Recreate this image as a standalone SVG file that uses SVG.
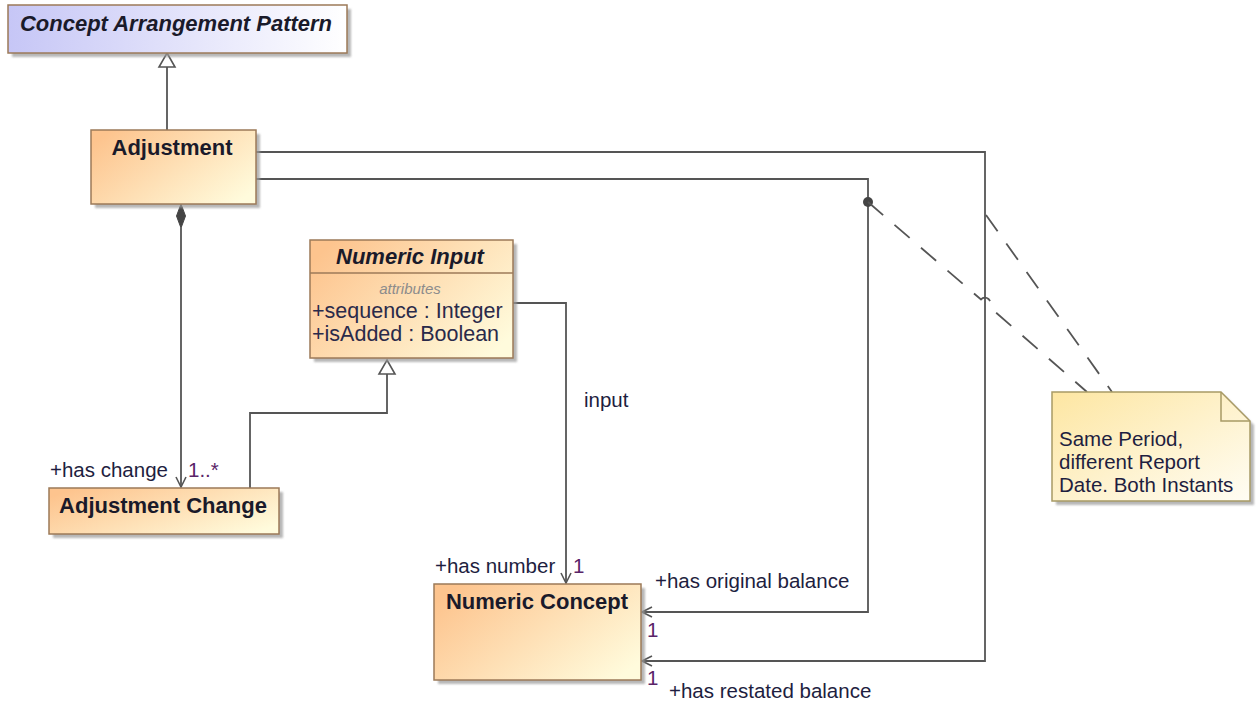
<svg xmlns="http://www.w3.org/2000/svg" width="1259" height="708" viewBox="0 0 1259 708">
  <defs>
    <linearGradient id="gClass" x1="0" y1="0.2" x2="1" y2="0.8">
      <stop offset="0" stop-color="#fdc48e"/>
      <stop offset="1" stop-color="#fffbdc"/>
    </linearGradient>
    <linearGradient id="gAbstract" x1="0" y1="0" x2="1" y2="0">
      <stop offset="0" stop-color="#c6c6f6"/>
      <stop offset="1" stop-color="#ffffff"/>
    </linearGradient>
    <linearGradient id="gNote" x1="0" y1="0" x2="1" y2="1">
      <stop offset="0" stop-color="#fde6a2"/>
      <stop offset="1" stop-color="#fffdf4"/>
    </linearGradient>
    <filter id="soft" x="-5%" y="-5%" width="110%" height="110%">
      <feGaussianBlur stdDeviation="1.2"/>
    </filter>
    <marker id="openArrow" viewBox="0 0 12 12" refX="11" refY="6" markerWidth="12" markerHeight="12" markerUnits="userSpaceOnUse" orient="auto">
      <path d="M1,1 L11,6 L1,11" fill="none" stroke="#555" stroke-width="1.6"/>
    </marker>
  </defs>
  <style>
    .box { stroke: #9c7a58; stroke-width: 1.5; }
    .shadow { fill: #9a9a9a; opacity: 0.7; filter: url(#soft); }
    .title { font-family: "Liberation Sans", Arial, sans-serif; font-size: 22px; font-weight: bold; fill: #1a1a2a; }
    .lbl { font-family: "Liberation Sans", Arial, sans-serif; font-size: 20.5px; fill: #1e1e40; }
    .mult { font-family: "Liberation Sans", Arial, sans-serif; font-size: 20.5px; fill: #5a2468; }
    .attr { font-family: "Liberation Sans", Arial, sans-serif; font-size: 21.5px; fill: #2a2a4a; }
    .stereo { font-family: "Liberation Sans", Arial, sans-serif; font-size: 15px; font-style: italic; fill: #8c8c8c; }
    .line { fill: none; stroke: #555; stroke-width: 1.8; }
    .dash { fill: none; stroke: #555; stroke-width: 1.8; stroke-dasharray: 20 15; }
  </style>

  <rect width="1259" height="708" fill="#ffffff"/>

  <!-- connectors -->
  <g id="connectors">
    <!-- Adjustment generalizes Concept Arrangement Pattern -->
    <path class="line" d="M167,130 L167,67"/>
    <path d="M167,53 L175,67 L159,67 Z" fill="#ffffff" stroke="#555" stroke-width="1.6"/>

    <!-- composition Adjustment to Adjustment Change -->
    <path class="line" d="M181,228 L181,487" marker-end="url(#openArrow)"/>
    <path d="M181,204 L185.5,216 L181,228 L176.5,216 Z" fill="#444" stroke="#444" stroke-width="1"/>

    <!-- Adjustment Change generalizes Numeric Input -->
    <path class="line" d="M250,488 L250,413 L387,413 L387,374"/>
    <path d="M387,360 L395,374 L379,374 Z" fill="#ffffff" stroke="#555" stroke-width="1.6"/>

    <!-- input association -->
    <path class="line" d="M513,303 L566,303 L566,583" marker-end="url(#openArrow)"/>

    <!-- has original balance -->
    <path class="line" d="M256,179 L868,179 L868,612 L642,612" marker-end="url(#openArrow)"/>
    <!-- has restated balance -->
    <path class="line" d="M256,152 L985,152 L985,661 L642,661" marker-end="url(#openArrow)"/>

    <!-- note anchors -->
    <circle cx="868" cy="202" r="5" fill="#444"/>
    <path class="dash" d="M868,202 L981,299.5 A5,5 0 0 1 989,306.5 L1087,392"/>
    <path class="dash" d="M986,215 L1112,392"/>
  </g>

  <!-- Concept Arrangement Pattern -->
  <g id="concept-arrangement-pattern">
    <rect class="shadow" x="12" y="9" width="339" height="48"/>
    <rect class="box" x="8" y="5" width="339" height="48" fill="url(#gAbstract)"/>
    <text class="title" x="176" y="31" text-anchor="middle" font-style="italic">Concept Arrangement Pattern</text>
  </g>

  <!-- Adjustment -->
  <g id="adjustment">
    <rect class="shadow" x="95" y="134" width="165" height="74"/>
    <rect class="box" x="91" y="130" width="165" height="74" fill="url(#gClass)"/>
    <text class="title" x="172" y="155" text-anchor="middle">Adjustment</text>
  </g>

  <!-- Numeric Input -->
  <g id="numeric-input">
    <rect class="shadow" x="314" y="244" width="203" height="118"/>
    <rect class="box" x="310" y="240" width="203" height="118" fill="url(#gClass)"/>
    <line x1="310" y1="273" x2="513" y2="273" stroke="#9c7a58" stroke-width="1.5"/>
    <text class="title" x="410" y="264" text-anchor="middle" font-style="italic">Numeric Input</text>
    <text class="stereo" x="410" y="294" text-anchor="middle">attributes</text>
    <text class="attr" x="312" y="318">+sequence : Integer</text>
    <text class="attr" x="312" y="341">+isAdded : Boolean</text>
  </g>

  <!-- Adjustment Change -->
  <g id="adjustment-change">
    <rect class="shadow" x="53" y="492" width="230" height="46"/>
    <rect class="box" x="49" y="488" width="230" height="46" fill="url(#gClass)"/>
    <text class="title" x="163" y="513" text-anchor="middle">Adjustment Change</text>
  </g>

  <!-- Numeric Concept -->
  <g id="numeric-concept">
    <rect class="shadow" x="438" y="588" width="207" height="96"/>
    <rect class="box" x="434" y="584" width="207" height="96" fill="url(#gClass)"/>
    <text class="title" x="537" y="609" text-anchor="middle">Numeric Concept</text>
  </g>

  <!-- Note -->
  <g id="note">
    <path class="shadow" d="M1056,396 L1225,396 L1254,425 L1254,505 L1056,505 Z"/>
    <path d="M1052,392 L1221,392 L1250,421 L1250,501 L1052,501 Z" fill="url(#gNote)" stroke="#a89a66" stroke-width="1.5"/>
    <path d="M1221,392 L1221,421 L1250,421" fill="none" stroke="#a89a66" stroke-width="1.5"/>
    <text class="lbl" x="1059" y="446">Same Period,</text>
    <text class="lbl" x="1059" y="469">different Report</text>
    <text class="lbl" x="1059" y="492">Date. Both Instants</text>
  </g>

  <!-- association end labels -->
  <g id="labels">
    <text class="lbl" x="50" y="477">+has change</text>
    <text class="mult" x="188" y="477">1..*</text>
    <text class="lbl" x="584" y="407">input</text>
    <text class="lbl" x="435" y="573">+has number</text>
    <text class="mult" x="573" y="573">1</text>
    <text class="lbl" x="655" y="588">+has original balance</text>
    <text class="mult" x="647" y="637">1</text>
    <text class="mult" x="647" y="685">1</text>
    <text class="lbl" x="669" y="698">+has restated balance</text>
  </g>
</svg>
